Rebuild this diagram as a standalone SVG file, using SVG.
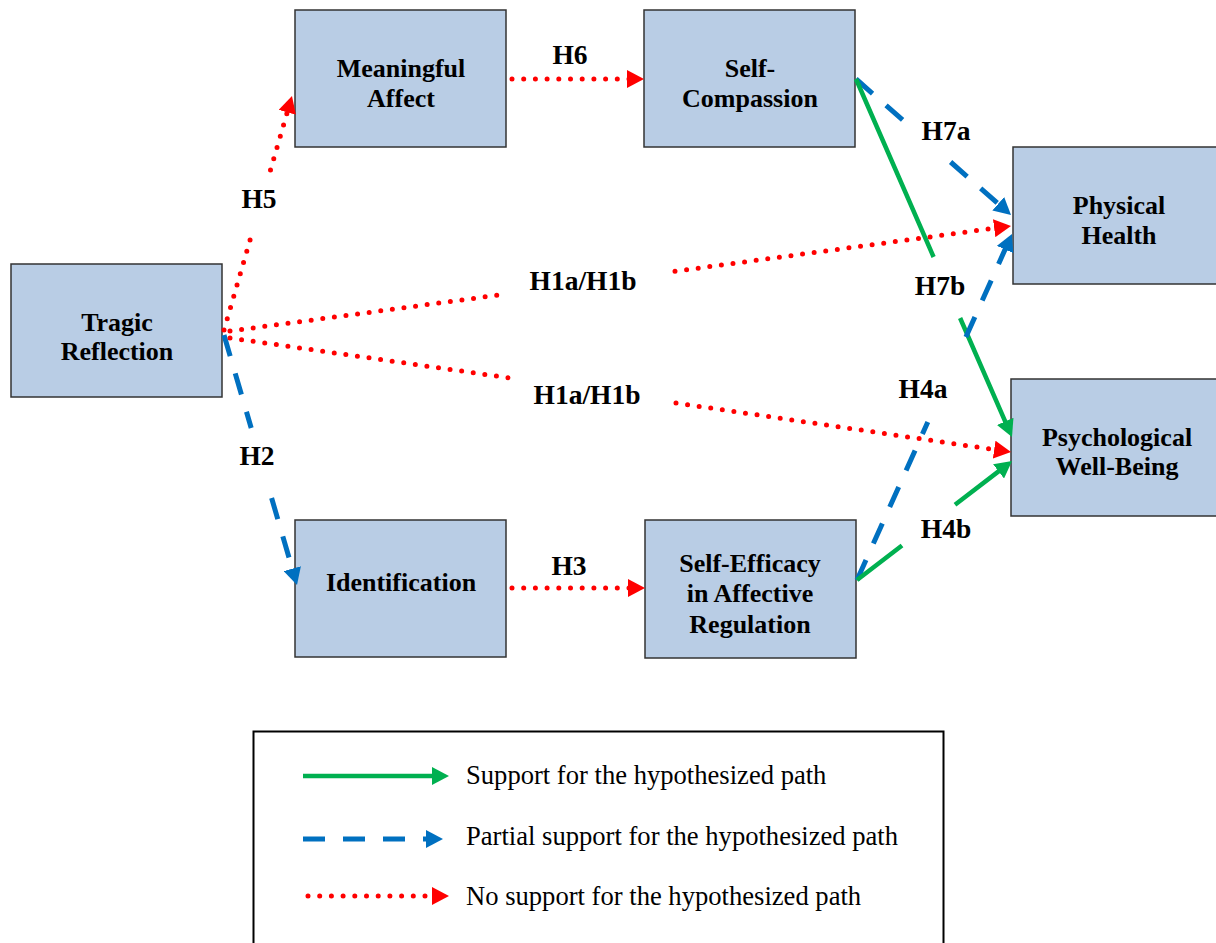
<svg xmlns="http://www.w3.org/2000/svg" width="1216" height="943" viewBox="0 0 1216 943">
  <style>
    .node rect { fill: #b9cde5; stroke: #333333; stroke-width: 1.5; }
    .node text { font-family: "Liberation Serif", "Times New Roman", serif; font-weight: bold; font-size: 26px; fill: #000; text-anchor: middle; }
    .lbl { font-family: "Liberation Serif", "Times New Roman", serif; font-weight: bold; font-size: 27.5px; fill: #000; text-anchor: middle; }
    .legend-text { font-family: "Liberation Serif", "Times New Roman", serif; font-size: 26.6px; fill: #000; }
    .yes { fill: none; stroke: #00b050; stroke-width: 4.5; }
    .part { fill: none; stroke: #0070c0; stroke-width: 5; stroke-dasharray: 22 18; }
    .no { fill: none; stroke: #ff0000; stroke-width: 5; stroke-dasharray: 0 11.7; stroke-linecap: round; }
  </style>
  <defs>
    <marker id="arrGreen" markerUnits="userSpaceOnUse" markerWidth="18" markerHeight="18" refX="7" refY="9" orient="auto">
      <path d="M0,0 L17,9 L0,18 Z" fill="#00b050"/>
    </marker>
    <marker id="arrBlue" markerUnits="userSpaceOnUse" markerWidth="18" markerHeight="18" refX="7" refY="9" orient="auto">
      <path d="M0,0 L17,9 L0,18 Z" fill="#0070c0"/>
    </marker>
    <marker id="arrRed" markerUnits="userSpaceOnUse" markerWidth="18" markerHeight="18" refX="7" refY="9" orient="auto">
      <path d="M0,0 L17,9 L0,18 Z" fill="#ff0000"/>
    </marker>
  </defs>

  <rect x="0" y="0" width="1216" height="943" fill="#ffffff"/>

  <!-- Nodes -->
  <g id="meaningful-affect" class="node">
    <rect x="295" y="10" width="211" height="137"/>
    <text x="401" y="77">Meaningful</text>
    <text x="401" y="107">Affect</text>
  </g>
  <g id="self-compassion" class="node">
    <rect x="644" y="10" width="211" height="137"/>
    <text x="750" y="77">Self-</text>
    <text x="750" y="107">Compassion</text>
  </g>
  <g id="physical-health" class="node">
    <rect x="1013" y="147" width="211" height="137"/>
    <text x="1119" y="214">Physical</text>
    <text x="1119" y="244">Health</text>
  </g>
  <g id="tragic-reflection" class="node">
    <rect x="11" y="264" width="211" height="133"/>
    <text x="117" y="331">Tragic</text>
    <text x="117" y="360">Reflection</text>
  </g>
  <g id="psychological-well-being" class="node">
    <rect x="1011" y="379" width="211" height="137"/>
    <text x="1117" y="446">Psychological</text>
    <text x="1117" y="475">Well-Being</text>
  </g>
  <g id="identification" class="node">
    <rect x="295" y="520" width="211" height="137"/>
    <text x="401" y="591">Identification</text>
  </g>
  <g id="self-efficacy" class="node">
    <rect x="645" y="520" width="211" height="138"/>
    <text x="750" y="572">Self-Efficacy</text>
    <text x="750" y="602">in Affective</text>
    <text x="750" y="633">Regulation</text>
  </g>

  <!-- Connectors (broken where a label sits on the path) -->
  <g id="connectors">
    <path class="no" d="M224,330 L252.4,232 M270.5,170 L289.2,105.6" marker-end="url(#arrRed)"/>
    <path class="part" d="M224,335 L251.2,428 M271.6,498 L294.2,575.4" marker-end="url(#arrBlue)"/>
    <path class="no" d="M512,79 L634,79" marker-end="url(#arrRed)"/>
    <path class="no" d="M512,588 L635,588" marker-end="url(#arrRed)"/>
    <path class="no" d="M230,331 L505,294.2 M675,271.3 L1001.1,227.3" marker-end="url(#arrRed)"/>
    <path class="no" d="M230,338 L510,378 M676,403 L1001.1,450.6" marker-end="url(#arrRed)"/>
    <path class="part" d="M856,79 L908.4,125 M950.6,162 L1003.5,208.4" marker-end="url(#arrBlue)"/>
    <path class="yes" d="M856,79 L933.6,257 M960.1,318 L1008,427.8" marker-end="url(#arrGreen)"/>
    <path class="part" d="M857,580 L927.8,422 M965.9,337 L1007.9,243.1" marker-end="url(#arrBlue)"/>
    <path class="yes" d="M857,580 L902,545.5 M955,504.8 L1004.1,467.1" marker-end="url(#arrGreen)"/>
  </g>

  <!-- Path labels -->
  <g id="labels">
    <text class="lbl" x="570" y="64">H6</text>
    <text class="lbl" x="259" y="208">H5</text>
    <text class="lbl" x="583" y="290">H1a/H1b</text>
    <text class="lbl" x="587" y="404">H1a/H1b</text>
    <text class="lbl" x="257" y="465">H2</text>
    <text class="lbl" x="569" y="575">H3</text>
    <text class="lbl" x="946" y="140">H7a</text>
    <text class="lbl" x="940" y="295">H7b</text>
    <text class="lbl" x="923" y="398">H4a</text>
    <text class="lbl" x="946" y="538">H4b</text>
  </g>

  <!-- Legend -->
  <g id="legend">
    <rect x="253.5" y="731.5" width="690" height="230" fill="none" stroke="#000" stroke-width="2"/>
    <path class="yes" d="M303,776 L439,776" marker-end="url(#arrGreen)"/>
    <text class="legend-text" x="466" y="784">Support for the hypothesized path</text>
    <path class="part" d="M303,839 L433,839" marker-end="url(#arrBlue)"/>
    <text class="legend-text" x="466" y="845">Partial support for the hypothesized path</text>
    <path class="no" d="M308,896 L439,896" marker-end="url(#arrRed)"/>
    <text class="legend-text" x="466" y="905">No support for the hypothesized path</text>
  </g>
</svg>
